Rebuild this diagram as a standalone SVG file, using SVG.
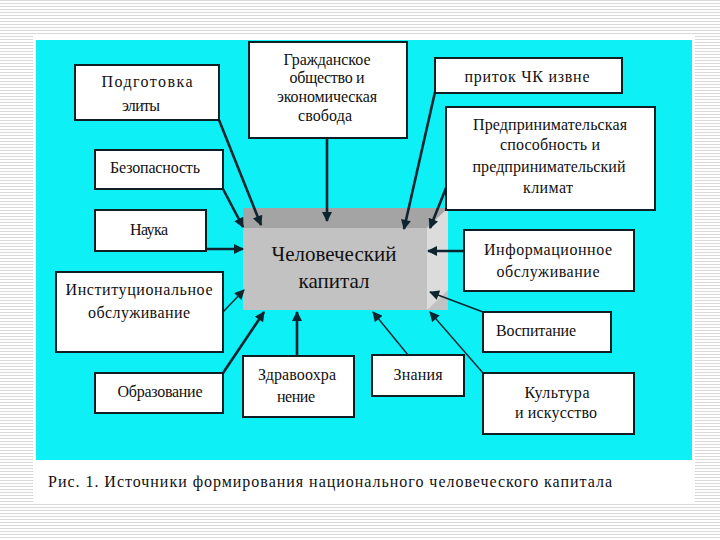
<svg xmlns="http://www.w3.org/2000/svg" width="720" height="540" viewBox="0 0 720 540">
<defs>
<pattern id="stripes" x="0" y="0" width="6" height="3" patternUnits="userSpaceOnUse">
<rect width="6" height="3" fill="#ffffff"/>
<rect y="0" width="6" height="1" fill="#d9d9d9"/>
</pattern>
<marker id="ah" viewBox="0 0 10 10" refX="9" refY="5" markerWidth="11" markerHeight="10" markerUnits="userSpaceOnUse" orient="auto">
<path d="M0,0 L10,5 L0,10 z" fill="#0e2530"/>
</marker>
</defs>
<style>
.box{fill:#ffffff;stroke:#0f1f24;stroke-width:2}
.t{font-family:'Liberation Serif','DejaVu Serif',serif;font-size:16px;fill:#111;text-anchor:middle}
.c{font-family:'Liberation Serif','DejaVu Serif',serif;font-size:21px;fill:#111;text-anchor:middle}
.cap{font-family:'Liberation Serif','DejaVu Serif',serif;font-size:16px;fill:#111}
.thick{stroke:#0e2530;stroke-width:2.6;fill:none}
.thin{stroke:#0e2530;stroke-width:1.4;fill:none}
</style>
<rect width="720" height="540" fill="url(#stripes)"/>
<rect x="33" y="35" width="662" height="467" fill="#ffffff"/>
<rect x="36" y="40" width="656" height="420" fill="#0cf0f6"/>

<g id="center">
<rect x="243" y="208" width="205" height="102" fill="#c2c2c2"/>
<polygon points="243,208 448,208 427,228 243,228" fill="#a4a4a4"/>
<polygon points="448,208 448,290 427,310 427,228" fill="#dcdcdc"/>
<text class="c" x="334" y="261">Человеческий</text>
<text class="c" x="334" y="288">капитал</text>
</g>

<g id="connectors">
<line class="thick" x1="219" y1="120" x2="261" y2="225" marker-end="url(#ah)"/>
<line class="thick" x1="223" y1="189" x2="243" y2="227" marker-end="url(#ah)"/>
<line class="thick" x1="327" y1="138" x2="327" y2="221" marker-end="url(#ah)"/>
<line class="thick" x1="435" y1="92" x2="404" y2="229" marker-end="url(#ah)"/>
<line class="thick" x1="446" y1="188" x2="430" y2="228" marker-end="url(#ah)"/>
<line class="thick" x1="206" y1="249" x2="243" y2="249" marker-end="url(#ah)"/>
<line class="thick" x1="464" y1="251" x2="428" y2="251" marker-end="url(#ah)"/>
<line class="thin" x1="223" y1="312" x2="244" y2="290" marker-end="url(#ah)"/>
<line class="thick" x1="223" y1="373" x2="264" y2="312" marker-end="url(#ah)"/>
<line class="thick" x1="297" y1="356" x2="297" y2="312" marker-end="url(#ah)"/>
<line class="thin" x1="408" y1="355" x2="373" y2="312" marker-end="url(#ah)"/>
<line class="thin" x1="483" y1="373" x2="430" y2="312" marker-end="url(#ah)"/>
<line class="thin" x1="483" y1="312" x2="430" y2="292" marker-end="url(#ah)"/>
</g>

<g id="n-elite">
<rect class="box" x="75" y="65" width="144" height="55"/>
<text class="t" x="147" y="87" textLength="91" lengthAdjust="spacing">Подготовка</text>
<text class="t" x="141" y="111" textLength="38" lengthAdjust="spacing">элиты</text>
</g>
<g id="n-civil">
<rect class="box" x="249" y="42" width="158" height="96"/>
<text class="t" x="327" y="65" font-size="15" textLength="87" lengthAdjust="spacing">Гражданское</text>
<text class="t" x="327" y="83" font-size="15" textLength="75" lengthAdjust="spacing">общество и</text>
<text class="t" x="327" y="102" font-size="15" textLength="100" lengthAdjust="spacing">экономическая</text>
<text class="t" x="325" y="121" font-size="15" textLength="54" lengthAdjust="spacing">свобода</text>
</g>
<g id="n-inflow">
<rect class="box" x="435" y="58" width="187" height="35"/>
<text class="t" x="527" y="82" textLength="125" lengthAdjust="spacing">приток ЧК извне</text>
</g>
<g id="n-entre">
<rect class="box" x="446" y="107" width="209" height="103"/>
<text class="t" x="550" y="130" textLength="154" lengthAdjust="spacing">Предпринимательская</text>
<text class="t" x="550" y="150" textLength="100" lengthAdjust="spacing">способность и</text>
<text class="t" x="549" y="172" textLength="153" lengthAdjust="spacing">предпринимательский</text>
<text class="t" x="548" y="193" textLength="50" lengthAdjust="spacing">климат</text>
</g>
<g id="n-security">
<rect class="box" x="95" y="150" width="128" height="39"/>
<text class="t" x="155" y="173" textLength="90" lengthAdjust="spacing">Безопасность</text>
</g>
<g id="n-science">
<rect class="box" x="95" y="210" width="111" height="41"/>
<text class="t" x="149" y="235" textLength="38" lengthAdjust="spacing">Наука</text>
</g>
<g id="n-inst">
<rect class="box" x="56" y="272" width="167" height="80"/>
<text class="t" x="139" y="295" textLength="147" lengthAdjust="spacing">Институциональное</text>
<text class="t" x="139" y="318" textLength="102" lengthAdjust="spacing">обслуживание</text>
</g>
<g id="n-edu">
<rect class="box" x="95" y="373" width="128" height="40"/>
<text class="t" x="160" y="397" textLength="85" lengthAdjust="spacing">Образование</text>
</g>
<g id="n-health">
<rect class="box" x="243" y="356" width="111" height="61"/>
<text class="t" x="297" y="380" textLength="78" lengthAdjust="spacing">Здравоохра</text>
<text class="t" x="296" y="402" textLength="38" lengthAdjust="spacing">нение</text>
</g>
<g id="n-know">
<rect class="box" x="372" y="355" width="92" height="41"/>
<text class="t" x="418" y="380" textLength="49" lengthAdjust="spacing">Знания</text>
</g>
<g id="n-culture">
<rect class="box" x="483" y="373" width="151" height="61"/>
<text class="t" x="557" y="398" textLength="65" lengthAdjust="spacing">Культура</text>
<text class="t" x="556" y="418" textLength="82" lengthAdjust="spacing">и искусство</text>
</g>
<g id="n-upbring">
<rect class="box" x="483" y="312" width="128" height="40"/>
<text class="t" x="536" y="336" textLength="80" lengthAdjust="spacing">Воспитание</text>
</g>
<g id="n-info">
<rect class="box" x="464" y="230" width="170" height="61"/>
<text class="t" x="548" y="255" textLength="128" lengthAdjust="spacing">Информационное</text>
<text class="t" x="548" y="277" textLength="103" lengthAdjust="spacing">обслуживание</text>
</g>

<text class="cap" x="48" y="487" textLength="564" lengthAdjust="spacing">Рис. 1. Источники формирования национального человеческого капитала</text>
</svg>
